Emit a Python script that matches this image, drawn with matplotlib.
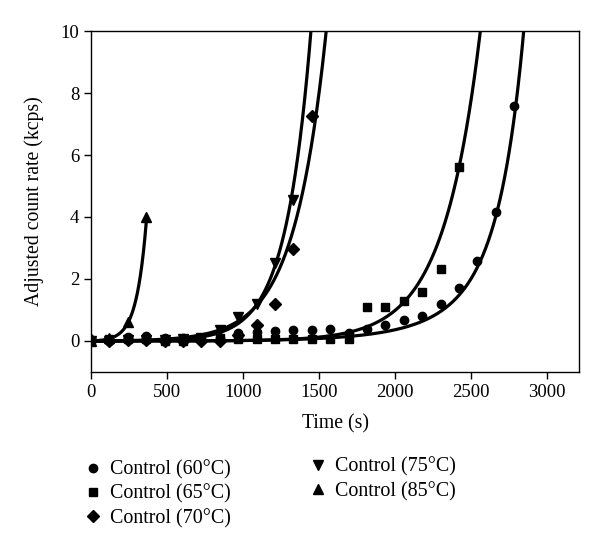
import numpy as np
import matplotlib
matplotlib.use("Agg")
import matplotlib.pyplot as plt
from matplotlib.lines import Line2D

plt.rcParams['font.family'] = ['Liberation Serif', 'DejaVu Serif']

# ---- data ----
time_s = [0, 121, 242, 363, 484, 605, 726, 847, 968, 1089, 1210, 1331,
          1452, 1573, 1694, 1815, 1936, 2057, 2178, 2299, 2420, 2541, 2662, 2783]

rate_60 = [0.03, 0.0, 0.12, 0.16, 0.09, 0.09, 0.08, 0.1, 0.25, 0.3, 0.33, 0.35,
           0.35, 0.38, 0.27, 0.39, 0.5, 0.68, 0.81, 1.18, 1.7, 2.59, 4.17, 7.58]
rate_65 = [0.0, 0.05, 0.05, 0.05, 0.0, 0.0, 0.05, 0.1, 0.05, 0.05, 0.05, 0.05,
           0.05, 0.05, 0.08, 1.1, 1.1, 1.29, 1.59, 2.31, 5.6]
rate_70 = [0.02, 0.0, 0.03, 0.03, 0.0, 0.0, 0.0, 0.0, 0.2, 0.5, 1.19, 2.96, 7.26]
rate_75 = [0.0, 0.0, 0.02, 0.02, 0.03, 0.05, 0.1, 0.35, 0.78, 1.2, 2.5, 4.55]
rate_85 = [0.0, 0.1, 0.62, 4.0]

labels = ["Control (60°C)", "Control (65°C)", "Control (70°C)",
          "Control (75°C)", "Control (85°C)"]

# fitted trend curves: y = A * (exp(B * (t/1000)**p) - 1)
fit_A = [0.243, 2.55e-4, 0.00664, 0.0017, 0.0143]
fit_B = [0.057, 4.13, 4.73, 6.0, 15.4]
fit_p = [4, 1, 1, 1, 1]
fit_end = [2900, 2600, 1600, 1500, 366]

series = [rate_60, rate_65, rate_70, rate_75, rate_85]
markers = ['o', 's', 'D', 'v', '^']
msizes = [6, 5.5, 6.3, 7, 7]

fig = plt.figure(figsize=(6.0, 5.48), dpi=100)
ax = fig.add_axes([0.1517, 0.3212, 0.965 - 0.1517, 0.9434 - 0.3212])

for vals, A, B, p, tend, m, ms in zip(series, fit_A, fit_B, fit_p, fit_end, markers, msizes):
    t = np.array(time_s[:len(vals)], dtype=float)
    ax.plot(t, vals, linestyle='none', marker=m, color='black', markersize=ms, zorder=3)
    tt = np.linspace(0, tend, 600)
    yy = A * (np.exp(B * (tt / 1000.0) ** p) - 1)
    ax.plot(tt, yy, color='black', linewidth=2.3, zorder=2)

ax.set_xlim(0, 3210)
ax.set_ylim(-1, 10)
ax.set_xticks([0, 500, 1000, 1500, 2000, 2500, 3000])
ax.set_yticks([0, 2, 4, 6, 8, 10])
ax.tick_params(direction='out', length=5, width=1, labelsize=13.5, color='black')
for s in ax.spines.values():
    s.set_linewidth(1.0)
ax.set_xlabel("Time (s)", fontsize=14.2, labelpad=10)
ax.set_ylabel("Adjusted count rate (kcps)", fontsize=14.2, labelpad=12)

handles = [Line2D([], [], linestyle='none', marker=m, color='black', markersize=ms)
           for m, ms in zip(markers, msizes)]
fig.legend(handles[:3], labels[:3], loc='upper left', bbox_to_anchor=(0.125, 0.175),
           frameon=False, fontsize=14.4, handletextpad=0.35, labelspacing=0.25,
           borderaxespad=0, handlelength=1.0)
fig.legend(handles[3:], labels[3:], loc='upper left', bbox_to_anchor=(0.5, 0.18),
           frameon=False, fontsize=14.4, handletextpad=0.35, labelspacing=0.25,
           borderaxespad=0, handlelength=1.0)

fig.savefig("out.png", dpi=100)
